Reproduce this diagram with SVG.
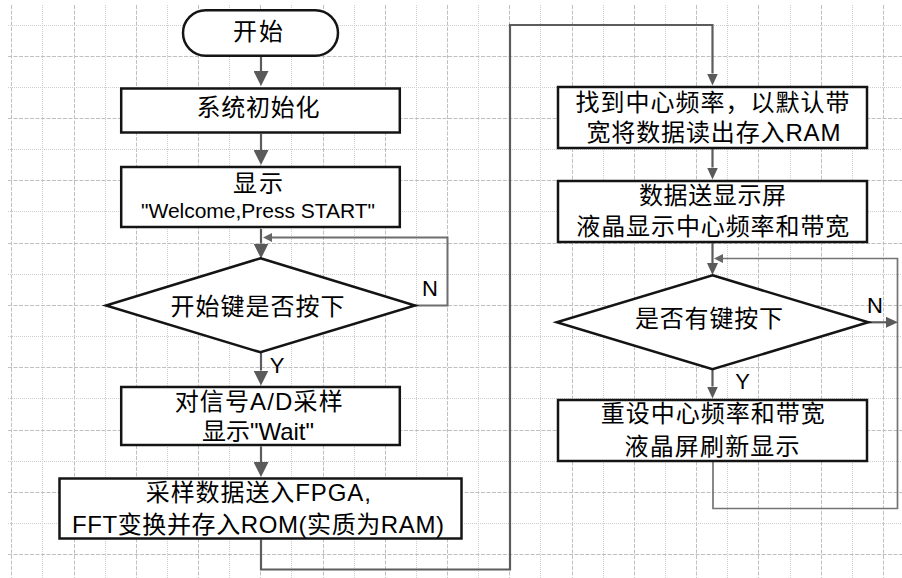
<svg xmlns="http://www.w3.org/2000/svg" width="902" height="578" viewBox="0 0 902 578">
<defs>
<style>
.bg{fill:#ffffff}
.gD{stroke:#c0c0c0;stroke-width:1;stroke-dasharray:4 1.5;fill:none}
.gd{stroke:#cecece;stroke-width:1;stroke-dasharray:1 1;fill:none}
.box{fill:#ffffff;stroke:#141414;stroke-width:2.5}
.t{font-family:"Liberation Sans","Noto Sans CJK SC",sans-serif;font-size:24px;fill:#000;text-anchor:middle}
.lt{font-family:"Liberation Sans","Noto Sans CJK SC",sans-serif;font-size:21px;fill:#000;text-anchor:middle}
.lab{font-family:"Liberation Sans",sans-serif;font-size:22px;fill:#000;text-anchor:middle}
.c{fill:none;stroke:#5c5c5c;stroke-width:2.2}
.cl{fill:none;stroke:#6e6e6e;stroke-width:2}
.cs{fill:none;stroke:#747474;stroke-width:1.7}
</style>
<marker id="ah15" markerUnits="userSpaceOnUse" markerWidth="15" markerHeight="15" viewBox="0 0 15 15" refX="0" refY="7.5" orient="auto"><path d="M0,0 L15,7.5 L0,15 z" fill="#5a5a5a"/></marker>
<marker id="ah12" markerUnits="userSpaceOnUse" markerWidth="12" markerHeight="11" viewBox="0 0 12 11" refX="0" refY="5.5" orient="auto"><path d="M0,0 L12,5.5 L0,11 z" fill="#5a5a5a"/></marker>
<marker id="ah9" markerUnits="userSpaceOnUse" markerWidth="9" markerHeight="9" viewBox="0 0 9 9" refX="0" refY="4.5" orient="auto"><path d="M0,0 L9,4.5 L0,9 z" fill="#666666"/></marker>
</defs>
<rect class="bg" x="0" y="0" width="902" height="578"/>
<g id="grid">
<path class="gD" d="M11.5,5V578M74.5,5V578M136.5,5V578M198.5,5V578M260.5,5V578M323.5,5V578M385.5,5V578M447.5,5V578M509.5,5V578M572.5,5V578M634.5,5V578M696.5,5V578M758.5,5V578M821.5,5V578M883.5,5V578"/>
<path class="gd" d="M42.5,5V578M105.5,5V578M167.5,5V578M229.5,5V578M291.5,5V578M354.5,5V578M416.5,5V578M478.5,5V578M540.5,5V578M603.5,5V578M665.5,5V578M727.5,5V578M790.5,5V578M852.5,5V578"/>
<path class="gd" d="M8,25.5H902M8,87.5H902M8,149.5H902M8,211.5H902M8,274.5H902M8,336.5H902M8,398.5H902M8,461.5H902M8,523.5H902"/>
<path class="gD" d="M8,56.5H902M8,118.5H902M8,180.5H902M8,243.5H902M8,305.5H902M8,367.5H902M8,430.5H902M8,492.5H902M8,554.5H902"/>
</g>
<g id="connectors">
<path class="c" d="M261,57V71" marker-end="url(#ah15)"/>
<path class="c" d="M261,134V150" marker-end="url(#ah15)"/>
<path class="c" d="M261,229V243.5" marker-end="url(#ah15)"/>
<path class="cl" d="M415,305.5H447.5V237.5H272" marker-end="url(#ah9)"/>
<path class="c" d="M261,352.5V370.5" marker-end="url(#ah15)"/>
<path class="c" d="M261,446.5V462" marker-end="url(#ah15)"/>
<path class="c" d="M261,539.5V569.5H510V25H712.5V73.5" marker-end="url(#ah12)"/>
<path class="c" d="M712.5,149V167.5" marker-end="url(#ah12)"/>
<path class="c" d="M712.5,242V263" marker-end="url(#ah12)"/>
<path class="cs" d="M713,461V508.5H897.5V258.5H723" marker-end="url(#ah9)"/>
<path class="c" d="M868.3,322.3H886" marker-end="url(#ah12)"/>
<path class="c" d="M712.5,369.3V386.5" marker-end="url(#ah12)"/>
<text class="lab" x="430" y="295.5">N</text>
<text class="lab" x="277" y="373.3">Y</text>
<text class="lab" x="875" y="312.7">N</text>
<text class="lab" x="742.5" y="389.3">Y</text>
</g>
<g id="start">
<rect class="box" x="183" y="10.2" width="155" height="45.5" rx="22.75" ry="22.75"/>
<text class="t" x="258" y="40.4" textLength="50" lengthAdjust="spacing">开始</text>
</g>
<g id="init">
<rect class="box" x="121.2" y="88.5" width="278.6" height="44"/>
<text class="t" x="258" y="116" textLength="123" lengthAdjust="spacing">系统初始化</text>
</g>
<g id="welcome">
<rect class="box" x="121.2" y="167" width="278.6" height="60"/>
<text class="t" x="258" y="191.5" textLength="50" lengthAdjust="spacing">显示</text>
<text class="lt" x="258" y="218" textLength="234" lengthAdjust="spacing">"Welcome,Press START"</text>
</g>
<g id="startkey">
<polygon class="box" points="260.5,258.3 415,305.5 260.5,352.3 106,305.5"/>
<text class="t" x="257.5" y="315.1" textLength="174" lengthAdjust="spacing">开始键是否按下</text>
</g>
<g id="sample">
<rect class="box" x="121.2" y="387" width="278.6" height="58"/>
<text class="t" x="258.7" y="410.1" textLength="168" lengthAdjust="spacing">对信号A/D采样</text>
<text class="t" x="258" y="440" textLength="112" lengthAdjust="spacing">显示"Wait"</text>
</g>
<g id="fpga">
<rect class="box" x="59.5" y="478.5" width="402" height="60"/>
<text class="t" x="258.3" y="501" textLength="225" lengthAdjust="spacing">采样数据送入FPGA,</text>
<text class="t" x="258" y="533.4" textLength="372" lengthAdjust="spacing">FFT变换并存入ROM(实质为RAM)</text>
</g>
<g id="findcenter">
<rect class="box" x="558" y="87" width="309" height="61"/>
<text class="t" x="712.5" y="111.4" textLength="274" lengthAdjust="spacing">找到中心频率，以默认带</text>
<text class="t" x="713.5" y="141.1" textLength="254" lengthAdjust="spacing">宽将数据读出存入RAM</text>
</g>
<g id="senddisplay">
<rect class="box" x="558" y="181" width="309" height="61"/>
<text class="t" x="712.5" y="204.4" textLength="147" lengthAdjust="spacing">数据送显示屏</text>
<text class="t" x="712.8" y="235.1" textLength="273" lengthAdjust="spacing">液晶显示中心频率和带宽</text>
</g>
<g id="keypressed">
<polygon class="box" points="712.5,275.3 868.3,322.3 712.5,369.3 556.7,322.3"/>
<text class="t" x="709" y="327.4" textLength="148" lengthAdjust="spacing">是否有键按下</text>
</g>
<g id="reset">
<rect class="box" x="558" y="400" width="309" height="61"/>
<text class="t" x="712.8" y="422.4" textLength="224" lengthAdjust="spacing">重设中心频率和带宽</text>
<text class="t" x="712" y="455.1" textLength="175" lengthAdjust="spacing">液晶屏刷新显示</text>
</g>
</svg>
